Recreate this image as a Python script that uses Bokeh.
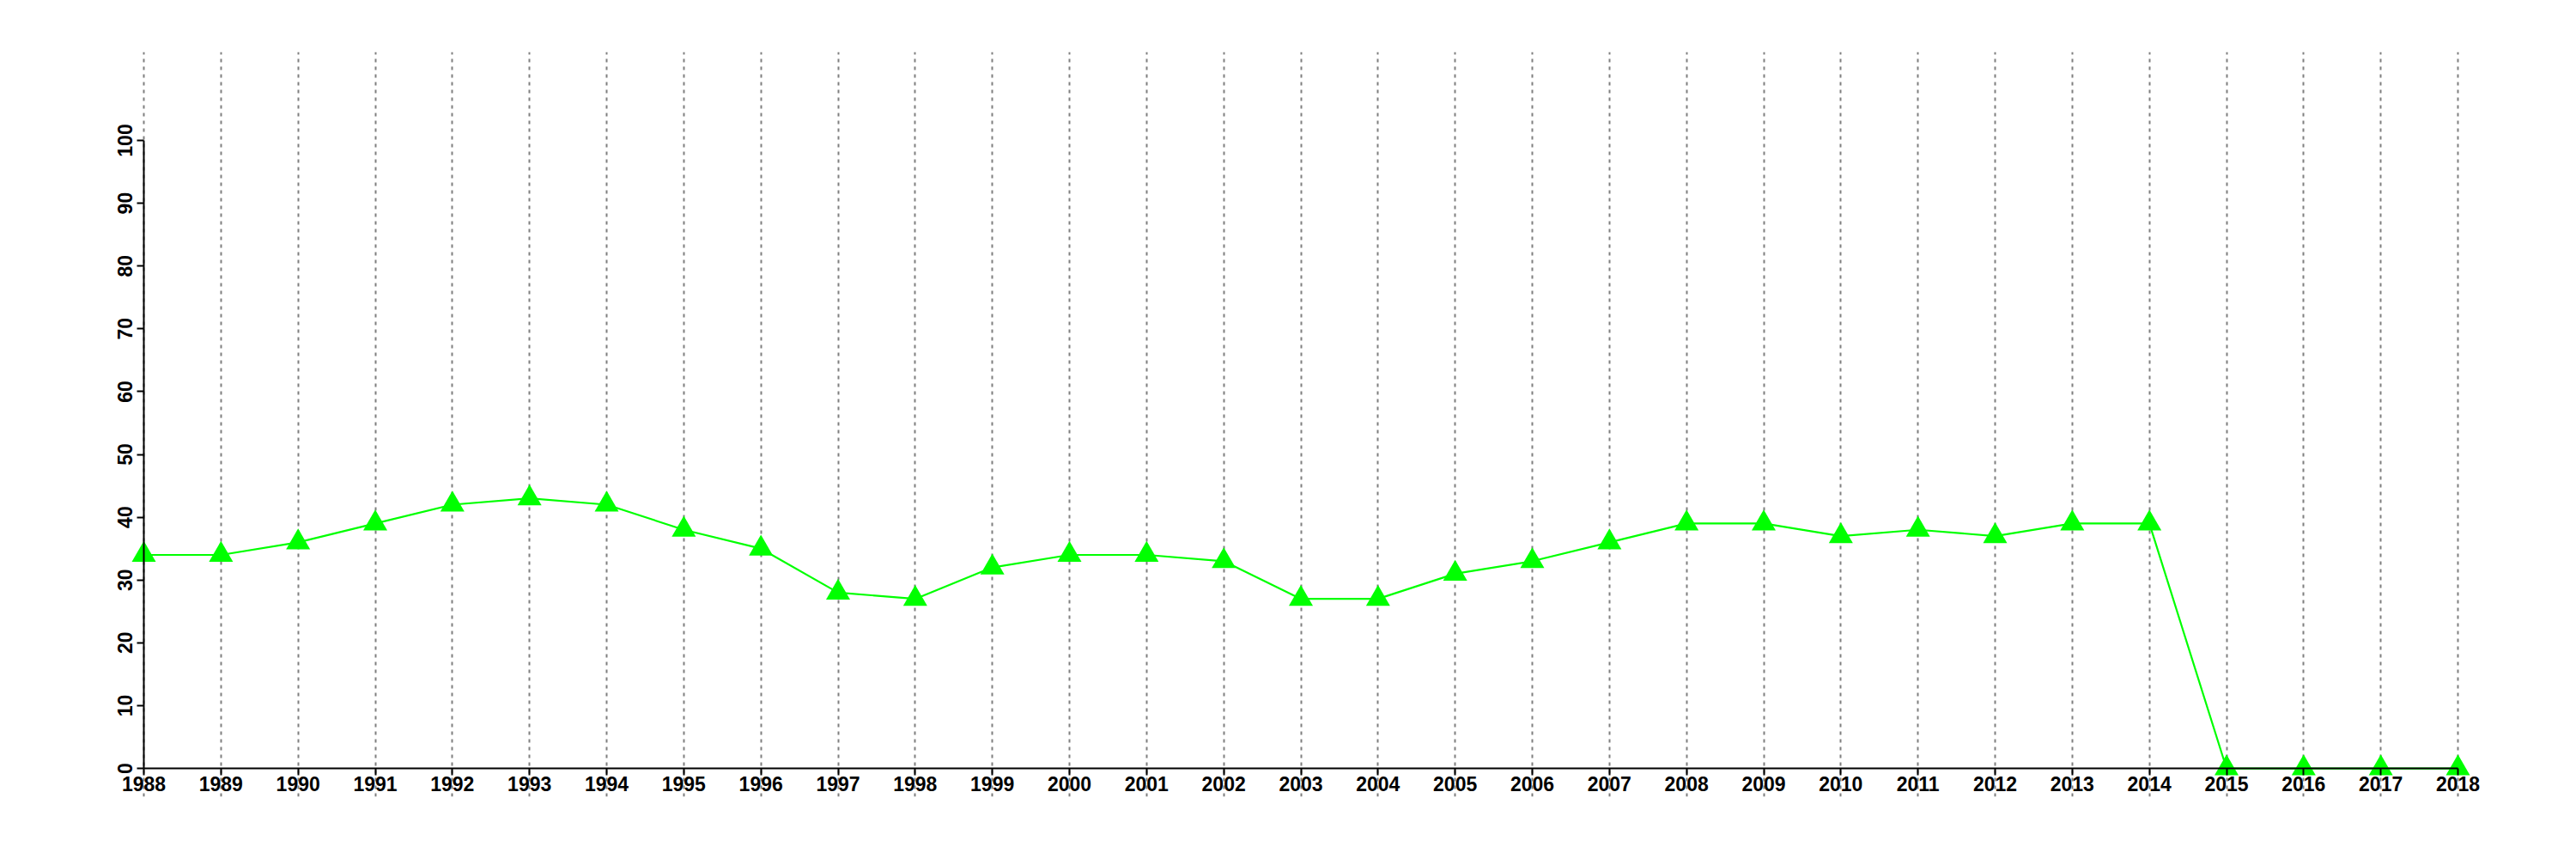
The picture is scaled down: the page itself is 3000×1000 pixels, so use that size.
from bokeh.plotting import figure
from bokeh.models import FixedTicker, Range1d
from bokeh.embed import file_html
from bokeh.resources import INLINE

years = list(range(1988, 2019))
values = [34, 34, 36, 39, 42, 43, 42, 38, 35, 28, 27, 32, 34, 34, 33, 27, 27,
          31, 33, 36, 39, 39, 37, 38, 37, 39, 39, 0, 0, 0, 0]
y_ticks = [0, 10, 20, 30, 40, 50, 60, 70, 80, 90, 100]

p = figure(width=2984, height=984, output_backend="svg", toolbar_location=None,
           x_range=Range1d(1987.254, 2018.423), y_range=Range1d(-4.51, 114.09),
           min_border_left=100, min_border_right=84, min_border_top=60,
           min_border_bottom=57)
p.outline_line_color = None
p.background_fill_color = "white"

p.line(years, values, line_color="#00ff00", line_width=2.2)
p.scatter(years, values, marker="triangle", size=28, fill_color="#00ff00",
          line_color="#00ff00", line_width=0)

for ax in (p.xaxis[0], p.yaxis[0]):
    ax.axis_line_width = 2
    ax.axis_line_color = "black"
    ax.major_tick_line_width = 2
    ax.major_tick_line_color = "black"
    ax.major_tick_out = 8
    ax.major_tick_in = 0
    ax.minor_tick_out = 0
    ax.minor_tick_in = 0
    ax.major_label_text_font = "Liberation Sans"
    ax.major_label_text_font_style = "bold"
    ax.major_label_text_font_size = "23px"
    ax.major_label_text_color = "black"

xa = p.xaxis[0]
xa.ticker = FixedTicker(ticks=years)
xa.fixed_location = 0
xa.bounds = (1988, 2018)
xa.major_label_standoff = 1

ya = p.yaxis[0]
ya.ticker = FixedTicker(ticks=y_ticks)
ya.fixed_location = 1988
ya.bounds = (0, 100)
ya.major_label_orientation = "vertical"
ya.major_label_standoff = 6

p.xgrid.ticker = FixedTicker(ticks=years)
p.xgrid.grid_line_color = "#7f7f7f"
p.xgrid.grid_line_width = 2
p.xgrid.grid_line_dash = "4 5"
p.ygrid.grid_line_color = None

open("out.html", "w").write(file_html(p, INLINE))
